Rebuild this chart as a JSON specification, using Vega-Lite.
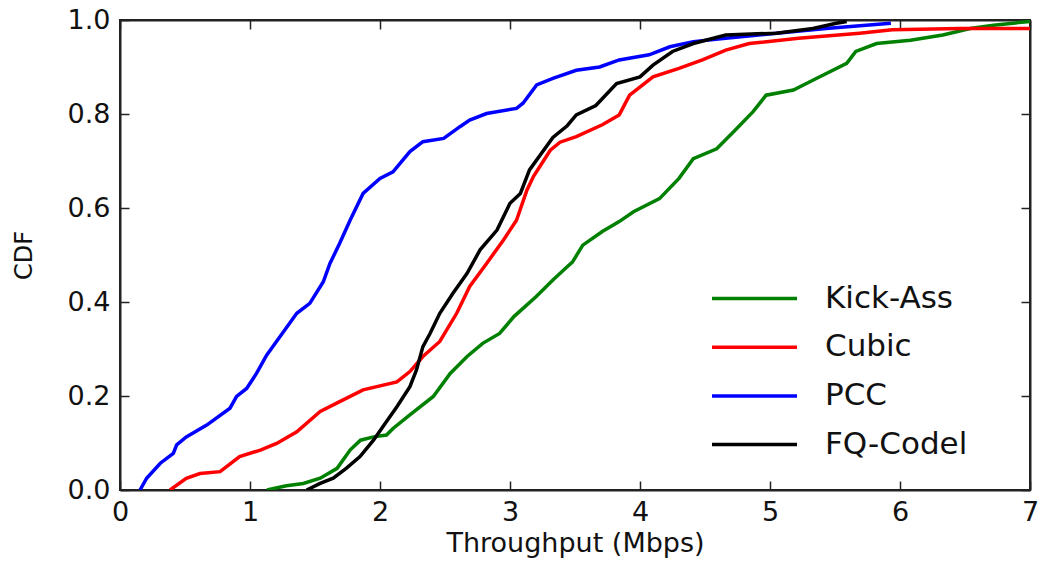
{
  "$schema": "https://vega.github.io/schema/vega-lite/v6.json",
  "width": 910,
  "height": 470,
  "autosize": {"type": "none"},
  "padding": {"left": 120, "top": 20, "right": 13, "bottom": 75},
  "background": "white",
  "config": {
    "font": "DejaVu Sans",
    "view": {"stroke": "#222", "strokeWidth": 2},
    "axis": {
      "grid": false,
      "domainColor": "#222",
      "domainWidth": 2,
      "tickColor": "#222",
      "tickWidth": 1.5,
      "tickSize": -9,
      "labelFont": "DejaVu Sans",
      "labelFontSize": 27,
      "labelColor": "#111",
      "labelOverlap": false,
      "labelFlush": false,
      "titleFont": "DejaVu Sans",
      "titleFontWeight": "normal",
      "titleColor": "#111"
    },
    "legend": {
      "labelFont": "DejaVu Sans",
      "labelFontSize": 31,
      "labelColor": "#111"
    }
  },
  "data": {
    "values": [
      {"series": "Kick-Ass", "x": 1.13, "y": 0},
      {"series": "Kick-Ass", "x": 1.28, "y": 0.009},
      {"series": "Kick-Ass", "x": 1.41, "y": 0.014},
      {"series": "Kick-Ass", "x": 1.54, "y": 0.025},
      {"series": "Kick-Ass", "x": 1.67, "y": 0.046},
      {"series": "Kick-Ass", "x": 1.77, "y": 0.085},
      {"series": "Kick-Ass", "x": 1.85, "y": 0.106},
      {"series": "Kick-Ass", "x": 1.95, "y": 0.113},
      {"series": "Kick-Ass", "x": 2.05, "y": 0.117},
      {"series": "Kick-Ass", "x": 2.10, "y": 0.131},
      {"series": "Kick-Ass", "x": 2.23, "y": 0.160},
      {"series": "Kick-Ass", "x": 2.41, "y": 0.199},
      {"series": "Kick-Ass", "x": 2.54, "y": 0.248},
      {"series": "Kick-Ass", "x": 2.67, "y": 0.284},
      {"series": "Kick-Ass", "x": 2.79, "y": 0.312},
      {"series": "Kick-Ass", "x": 2.92, "y": 0.333},
      {"series": "Kick-Ass", "x": 3.03, "y": 0.369},
      {"series": "Kick-Ass", "x": 3.20, "y": 0.411},
      {"series": "Kick-Ass", "x": 3.33, "y": 0.447},
      {"series": "Kick-Ass", "x": 3.44, "y": 0.475},
      {"series": "Kick-Ass", "x": 3.48, "y": 0.485},
      {"series": "Kick-Ass", "x": 3.56, "y": 0.521},
      {"series": "Kick-Ass", "x": 3.71, "y": 0.550},
      {"series": "Kick-Ass", "x": 3.84, "y": 0.571},
      {"series": "Kick-Ass", "x": 3.95, "y": 0.592},
      {"series": "Kick-Ass", "x": 4.15, "y": 0.620},
      {"series": "Kick-Ass", "x": 4.30, "y": 0.663},
      {"series": "Kick-Ass", "x": 4.41, "y": 0.705},
      {"series": "Kick-Ass", "x": 4.59, "y": 0.726},
      {"series": "Kick-Ass", "x": 4.72, "y": 0.762},
      {"series": "Kick-Ass", "x": 4.87, "y": 0.805},
      {"series": "Kick-Ass", "x": 4.97, "y": 0.840},
      {"series": "Kick-Ass", "x": 5.18, "y": 0.851},
      {"series": "Kick-Ass", "x": 5.36, "y": 0.876},
      {"series": "Kick-Ass", "x": 5.59, "y": 0.908},
      {"series": "Kick-Ass", "x": 5.66, "y": 0.933},
      {"series": "Kick-Ass", "x": 5.82, "y": 0.950},
      {"series": "Kick-Ass", "x": 6.08, "y": 0.957},
      {"series": "Kick-Ass", "x": 6.33, "y": 0.968},
      {"series": "Kick-Ass", "x": 6.54, "y": 0.982},
      {"series": "Kick-Ass", "x": 6.72, "y": 0.989},
      {"series": "Kick-Ass", "x": 7.0, "y": 0.997},

      {"series": "Cubic", "x": 0.385, "y": 0},
      {"series": "Cubic", "x": 0.51, "y": 0.025},
      {"series": "Cubic", "x": 0.615, "y": 0.035},
      {"series": "Cubic", "x": 0.77, "y": 0.039},
      {"series": "Cubic", "x": 0.92, "y": 0.071},
      {"series": "Cubic", "x": 1.08, "y": 0.085},
      {"series": "Cubic", "x": 1.205, "y": 0.099},
      {"series": "Cubic", "x": 1.36, "y": 0.124},
      {"series": "Cubic", "x": 1.54, "y": 0.167},
      {"series": "Cubic", "x": 1.69, "y": 0.188},
      {"series": "Cubic", "x": 1.87, "y": 0.213},
      {"series": "Cubic", "x": 2.13, "y": 0.230},
      {"series": "Cubic", "x": 2.23, "y": 0.252},
      {"series": "Cubic", "x": 2.33, "y": 0.284},
      {"series": "Cubic", "x": 2.46, "y": 0.316},
      {"series": "Cubic", "x": 2.59, "y": 0.376},
      {"series": "Cubic", "x": 2.69, "y": 0.433},
      {"series": "Cubic", "x": 2.82, "y": 0.482},
      {"series": "Cubic", "x": 2.95, "y": 0.532},
      {"series": "Cubic", "x": 3.05, "y": 0.574},
      {"series": "Cubic", "x": 3.13, "y": 0.638},
      {"series": "Cubic", "x": 3.18, "y": 0.667},
      {"series": "Cubic", "x": 3.31, "y": 0.723},
      {"series": "Cubic", "x": 3.385, "y": 0.740},
      {"series": "Cubic", "x": 3.51, "y": 0.752},
      {"series": "Cubic", "x": 3.71, "y": 0.777},
      {"series": "Cubic", "x": 3.84, "y": 0.798},
      {"series": "Cubic", "x": 3.92, "y": 0.840},
      {"series": "Cubic", "x": 4.10, "y": 0.879},
      {"series": "Cubic", "x": 4.30, "y": 0.897},
      {"series": "Cubic", "x": 4.48, "y": 0.915},
      {"series": "Cubic", "x": 4.66, "y": 0.936},
      {"series": "Cubic", "x": 4.84, "y": 0.950},
      {"series": "Cubic", "x": 5.22, "y": 0.961},
      {"series": "Cubic", "x": 5.69, "y": 0.972},
      {"series": "Cubic", "x": 5.94, "y": 0.979},
      {"series": "Cubic", "x": 6.46, "y": 0.982},
      {"series": "Cubic", "x": 7.0, "y": 0.982},

      {"series": "PCC", "x": 0.154, "y": 0},
      {"series": "PCC", "x": 0.205, "y": 0.025},
      {"series": "PCC", "x": 0.31, "y": 0.057},
      {"series": "PCC", "x": 0.41, "y": 0.078},
      {"series": "PCC", "x": 0.436, "y": 0.096},
      {"series": "PCC", "x": 0.51, "y": 0.113},
      {"series": "PCC", "x": 0.667, "y": 0.138},
      {"series": "PCC", "x": 0.846, "y": 0.174},
      {"series": "PCC", "x": 0.897, "y": 0.199},
      {"series": "PCC", "x": 0.974, "y": 0.216},
      {"series": "PCC", "x": 1.05, "y": 0.248},
      {"series": "PCC", "x": 1.128, "y": 0.287},
      {"series": "PCC", "x": 1.23, "y": 0.326},
      {"series": "PCC", "x": 1.36, "y": 0.376},
      {"series": "PCC", "x": 1.46, "y": 0.397},
      {"series": "PCC", "x": 1.564, "y": 0.443},
      {"series": "PCC", "x": 1.615, "y": 0.482},
      {"series": "PCC", "x": 1.69, "y": 0.525},
      {"series": "PCC", "x": 1.77, "y": 0.574},
      {"series": "PCC", "x": 1.87, "y": 0.631},
      {"series": "PCC", "x": 2.0, "y": 0.663},
      {"series": "PCC", "x": 2.10, "y": 0.677},
      {"series": "PCC", "x": 2.23, "y": 0.720},
      {"series": "PCC", "x": 2.33, "y": 0.741},
      {"series": "PCC", "x": 2.49, "y": 0.748},
      {"series": "PCC", "x": 2.615, "y": 0.773},
      {"series": "PCC", "x": 2.69, "y": 0.787},
      {"series": "PCC", "x": 2.82, "y": 0.801},
      {"series": "PCC", "x": 3.05, "y": 0.812},
      {"series": "PCC", "x": 3.10, "y": 0.823},
      {"series": "PCC", "x": 3.205, "y": 0.862},
      {"series": "PCC", "x": 3.33, "y": 0.876},
      {"series": "PCC", "x": 3.51, "y": 0.893},
      {"series": "PCC", "x": 3.69, "y": 0.900},
      {"series": "PCC", "x": 3.84, "y": 0.915},
      {"series": "PCC", "x": 4.07, "y": 0.926},
      {"series": "PCC", "x": 4.23, "y": 0.943},
      {"series": "PCC", "x": 4.41, "y": 0.954},
      {"series": "PCC", "x": 4.66, "y": 0.961},
      {"series": "PCC", "x": 5.05, "y": 0.972},
      {"series": "PCC", "x": 5.43, "y": 0.982},
      {"series": "PCC", "x": 5.93, "y": 0.993},

      {"series": "FQ-Codel", "x": 1.436, "y": 0},
      {"series": "FQ-Codel", "x": 1.54, "y": 0.014},
      {"series": "FQ-Codel", "x": 1.64, "y": 0.025},
      {"series": "FQ-Codel", "x": 1.74, "y": 0.046},
      {"series": "FQ-Codel", "x": 1.846, "y": 0.071},
      {"series": "FQ-Codel", "x": 1.95, "y": 0.106},
      {"series": "FQ-Codel", "x": 2.03, "y": 0.138},
      {"series": "FQ-Codel", "x": 2.13, "y": 0.177},
      {"series": "FQ-Codel", "x": 2.23, "y": 0.220},
      {"series": "FQ-Codel", "x": 2.28, "y": 0.255},
      {"series": "FQ-Codel", "x": 2.33, "y": 0.305},
      {"series": "FQ-Codel", "x": 2.385, "y": 0.333},
      {"series": "FQ-Codel", "x": 2.46, "y": 0.376},
      {"series": "FQ-Codel", "x": 2.56, "y": 0.418},
      {"series": "FQ-Codel", "x": 2.67, "y": 0.461},
      {"series": "FQ-Codel", "x": 2.77, "y": 0.511},
      {"series": "FQ-Codel", "x": 2.90, "y": 0.553},
      {"series": "FQ-Codel", "x": 3.0, "y": 0.610},
      {"series": "FQ-Codel", "x": 3.08, "y": 0.631},
      {"series": "FQ-Codel", "x": 3.15, "y": 0.681},
      {"series": "FQ-Codel", "x": 3.33, "y": 0.750},
      {"series": "FQ-Codel", "x": 3.44, "y": 0.775},
      {"series": "FQ-Codel", "x": 3.51, "y": 0.798},
      {"series": "FQ-Codel", "x": 3.66, "y": 0.818},
      {"series": "FQ-Codel", "x": 3.82, "y": 0.865},
      {"series": "FQ-Codel", "x": 4.0, "y": 0.879},
      {"series": "FQ-Codel", "x": 4.10, "y": 0.904},
      {"series": "FQ-Codel", "x": 4.25, "y": 0.933},
      {"series": "FQ-Codel", "x": 4.41, "y": 0.950},
      {"series": "FQ-Codel", "x": 4.66, "y": 0.968},
      {"series": "FQ-Codel", "x": 5.05, "y": 0.972},
      {"series": "FQ-Codel", "x": 5.33, "y": 0.982},
      {"series": "FQ-Codel", "x": 5.51, "y": 0.993},
      {"series": "FQ-Codel", "x": 5.59, "y": 0.997}
    ]
  },
  "layer": [
    {
      "mark": {"type": "line", "strokeWidth": 3.5, "clip": true},
      "encoding": {
        "x": {
          "field": "x",
          "type": "quantitative",
          "scale": {"domain": [0, 7], "nice": false, "zero": false},
          "axis": {
            "orient": "bottom",
            "values": [0, 1, 2, 3, 4, 5, 6, 7],
            "format": "d",
            "labelPadding": 18,
            "title": "Throughput (Mbps)",
            "titleFontSize": 27,
            "titlePadding": 5
          }
        },
        "y": {
          "field": "y",
          "type": "quantitative",
          "scale": {"domain": [0, 1], "nice": false},
          "axis": {
            "orient": "left",
            "values": [0, 0.2, 0.4, 0.6, 0.8, 1.0],
            "format": ".1f",
            "labelPadding": 19,
            "title": "CDF",
            "titleFontSize": 24,
            "titlePadding": 31
          }
        },
        "color": {
          "field": "series",
          "type": "nominal",
          "scale": {
            "domain": ["Kick-Ass", "Cubic", "PCC", "FQ-Codel"],
            "range": ["#008000", "#ff0000", "#0000ff", "#000000"]
          },
          "legend": {
            "title": null,
            "orient": "none",
            "legendX": 592,
            "legendY": 263,
            "symbolType": "M-5,0H5",
            "symbolSize": 289,
            "symbolStrokeWidth": 3.5,
            "symbolOffset": 27,
            "labelOffset": 55,
            "rowPadding": 16.7,
            "padding": 0
          }
        },
        "order": {"value": 0}
      }
    },
    {
      "mark": {"type": "line", "strokeOpacity": 0, "clip": true},
      "encoding": {
        "x": {
          "field": "x",
          "type": "quantitative",
          "axis": {"orient": "top", "values": [0, 1, 2, 3, 4, 5, 6, 7], "labels": false, "title": null}
        },
        "y": {
          "field": "y",
          "type": "quantitative",
          "axis": {"orient": "right", "values": [0, 0.2, 0.4, 0.6, 0.8, 1.0], "labels": false, "title": null}
        },
        "detail": {"field": "series"}
      }
    }
  ],
  "resolve": {"axis": {"x": "independent", "y": "independent"}}
}
